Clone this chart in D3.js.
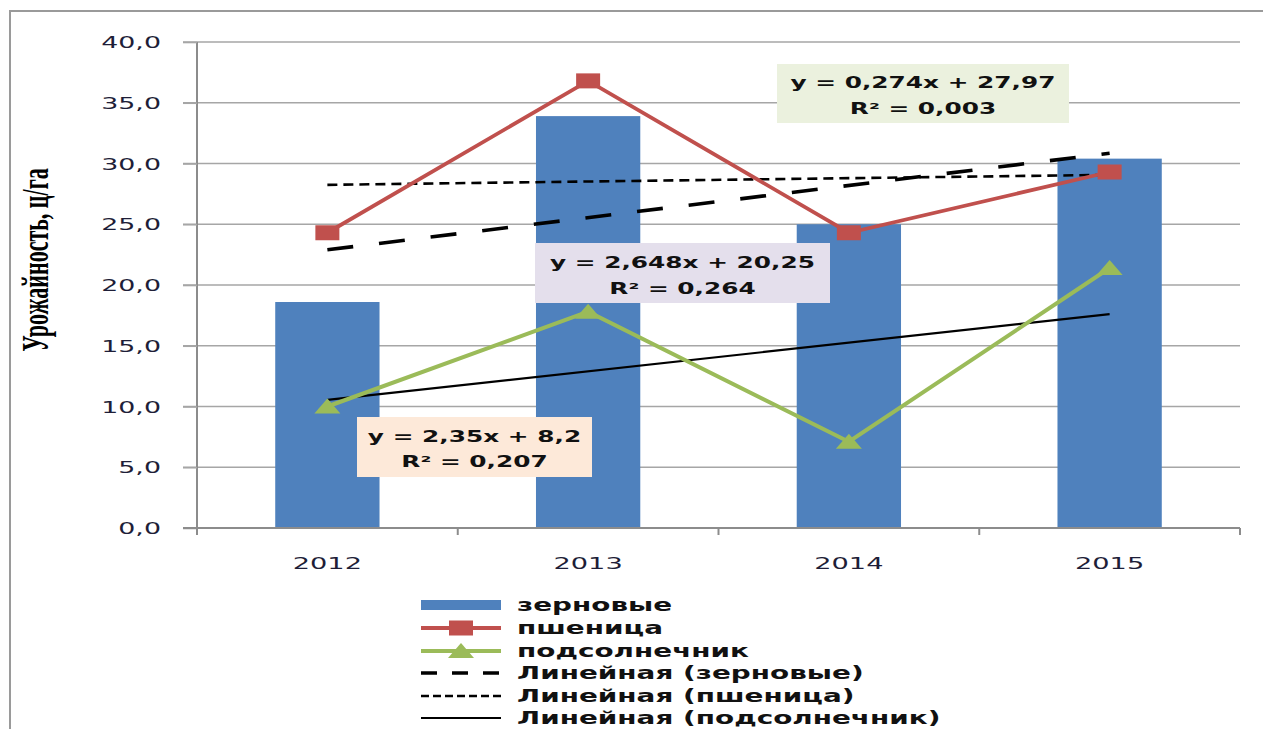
<!DOCTYPE html>
<html><head><meta charset="utf-8">
<script src="https://cdn.jsdelivr.net/npm/d3@7"></script>
<style>html,body{margin:0;padding:0;background:#fff;overflow:hidden}</style>
</head><body><svg id="c" width="1263" height="729"></svg>
<script>
const years = ["2012","2013","2014","2015"];
const grain = [18.6, 33.9, 25.0, 30.4];
const wheat = [24.3, 36.8, 24.3, 29.3];
const sunflower = [10.0, 17.8, 7.1, 21.4];
const yTicks = [0,5,10,15,20,25,30,35,40];
const seriesNames = ["зерновые","пшеница","подсолнечник"];
const trendNames = ["Линейная (зерновые)","Линейная (пшеница)","Линейная (подсолнечник)"];
const trendSlope = [2.648, 0.274, 2.35];
const trendIntercept = [20.25, 27.97, 8.2];
const trendR2 = ["0,264","0,003","0,207"];
const axisTitle = "Урожайность, ц/га";

const SX = 1.55;
const svg = d3.select("#c");
const fmt = v => d3.format(".1f")(v).replace(".", ",");
const fmtN = v => String(v).replace(".", ",");

function stext(g, x, y, str, opts) {
  const t = g.append("text").attr("transform", `translate(${x},${y}) scale(${opts.sx||SX},1)`)
    .attr("text-anchor", opts.anchor||"start")
    .attr("font-family", opts.family||"DejaVu Sans")
    .attr("font-size", opts.size||15)
    .attr("font-weight", opts.weight||"normal")
    .attr("fill", opts.fill||"#222")
    .text(str);
  return t;
}

// outer border
svg.append("rect").attr("x",10).attr("y",11).attr("width",1400).attr("height",900)
  .attr("fill","none").attr("stroke","#9a9a9a").attr("stroke-width",2);

const x = d3.scaleBand().domain(years).range([197,1240]).padding(0);
const y = d3.scaleLinear().domain([0,40]).range([528,42]);
const cx = d => x(d) + x.bandwidth()/2;

// gridlines
const g = svg.append("g");
g.selectAll("line.grid").data(yTicks.filter(v=>v>0)).join("line")
  .attr("x1",183).attr("x2",1240).attr("y1",d=>y(d)).attr("y2",d=>y(d))
  .attr("stroke","#a6a6a6").attr("stroke-width",1.6);

// y axis
const yAxis = d3.axisLeft(y).tickValues(yTicks).tickSize(14).tickFormat(fmt);
const ya = svg.append("g").attr("transform","translate(197,0)").call(yAxis);
ya.select(".domain").attr("stroke","#8c8c8c").attr("stroke-width",2).attr("d","M0,533V42");
ya.selectAll(".tick line").attr("stroke","#a6a6a6").attr("stroke-width",1.6);
ya.selectAll(".tick text").remove();
yTicks.forEach(v => stext(svg, 161, y(v)+6, fmt(v), {anchor:"end", size:16, sx:1.68, fill:"#1e1e38"}));

// bars
const bw = x.bandwidth()*0.4;
svg.append("g").selectAll("rect").data(grain).join("rect")
  .attr("x",(d,i)=>cx(years[i])-bw/2).attr("width",bw)
  .attr("y",d=>y(d)).attr("height",d=>y(0)-y(d)).attr("fill","#4f81bd");

// x axis
const xa = svg.append("g").attr("transform","translate(0,528)")
  .call(d3.axisBottom(x).tickSize(0).tickFormat(""));
xa.select(".domain").attr("stroke","#8c8c8c").attr("stroke-width",2).attr("d","M183,0H1240");
xa.selectAll(".tick").remove();
const bounds = years.map(d=>x(d)).concat([1240]);
xa.selectAll("line.bt").data(bounds).join("line").attr("class","bt")
  .attr("x1",d=>d).attr("x2",d=>d).attr("y1",0).attr("y2",7)
  .attr("stroke","#8c8c8c").attr("stroke-width",2);
years.forEach(yr => stext(svg, cx(yr), 569, yr, {anchor:"middle", size:16, sx:1.7, fill:"#1e1e38"}));

// trend lines
const trendStyles = [
  {dash:"26,26", w:3.6},
  {dash:"10,6", w:2.6},
  {dash:null, w:2.2}
];
trendSlope.forEach((s,i) => {
  const pts = years.map((yr,j)=>[cx(yr), y(s*(j+1)+trendIntercept[i])]);
  const p = svg.append("path").attr("d", d3.line()([pts[0], pts[pts.length-1]]))
    .attr("stroke","#000").attr("stroke-width",trendStyles[i].w).attr("fill","none");
  if (trendStyles[i].dash) p.attr("stroke-dasharray", trendStyles[i].dash);
});

// lines
const line = d3.line().x((d,i)=>cx(years[i])).y(d=>y(d));
svg.append("path").datum(wheat).attr("d",line).attr("fill","none")
  .attr("stroke","#c0504d").attr("stroke-width",3.8);
svg.append("path").datum(sunflower).attr("d",line).attr("fill","none")
  .attr("stroke","#9bbb59").attr("stroke-width",4);
svg.append("g").selectAll("rect").data(wheat).join("rect")
  .attr("x",(d,i)=>cx(years[i])-12).attr("y",d=>y(d)-7.5)
  .attr("width",24).attr("height",15).attr("fill","#c0504d");
const tri = (px,py) => `M${px},${py-8}L${px+13},${py+7}L${px-13},${py+7}Z`;
svg.append("g").selectAll("path").data(sunflower).join("path")
  .attr("d",(d,i)=>tri(cx(years[i]), y(d))).attr("fill","#9bbb59");

// equation boxes
const boxes = [
  {i:1, x:777, y:64, w:292, h:59, fill:"#ebf1de", l1:88, l2:114},
  {i:0, x:535, y:243, w:295, h:60, fill:"#e4dfec", l1:268, l2:294},
  {i:2, x:357, y:417, w:235, h:60, fill:"#fde9d9", l1:442, l2:467}
];
boxes.forEach(b => {
  svg.append("rect").attr("x",b.x).attr("y",b.y).attr("width",b.w).attr("height",b.h).attr("fill",b.fill);
  const mx = b.x + b.w/2;
  stext(svg, mx, b.l1, `y = ${fmtN(trendSlope[b.i])}x + ${fmtN(trendIntercept[b.i])}`, {anchor:"middle", size:16, weight:"bold", fill:"#111"});
  stext(svg, mx, b.l2, `R² = ${trendR2[b.i]}`, {anchor:"middle", size:16, weight:"bold", fill:"#111"});
});

// axis title
svg.append("text").attr("transform","translate(48,260) scale(1.7,1) rotate(-90)")
  .attr("text-anchor","middle").attr("font-family","Liberation Serif").attr("font-weight","bold")
  .attr("font-size",22).attr("fill","#000").text(axisTitle);

// legend
const lg = svg.append("g");
const rows = [605,628,651,673,696,718];
const lx0 = 421, lx1 = 501, tx = 517;
lg.append("rect").attr("x",lx0).attr("y",rows[0]-5).attr("width",lx1-lx0).attr("height",10).attr("fill","#4f81bd");
lg.append("line").attr("x1",lx0).attr("x2",lx1).attr("y1",rows[1]).attr("y2",rows[1]).attr("stroke","#c0504d").attr("stroke-width",3.8);
lg.append("rect").attr("x",(lx0+lx1)/2-12).attr("y",rows[1]-7.5).attr("width",24).attr("height",15).attr("fill","#c0504d");
lg.append("line").attr("x1",lx0).attr("x2",lx1).attr("y1",rows[2]).attr("y2",rows[2]).attr("stroke","#9bbb59").attr("stroke-width",4);
lg.append("path").attr("d",tri((lx0+lx1)/2, rows[2])).attr("fill","#9bbb59");
trendStyles.forEach((s,i) => {
  const l = lg.append("line").attr("x1",lx0).attr("x2",lx1).attr("y1",rows[3+i]).attr("y2",rows[3+i])
    .attr("stroke","#000").attr("stroke-width",s.w);
  if (s.dash) l.attr("stroke-dasharray", i===0 ? "16,15" : "8,4");
});
seriesNames.concat(trendNames).forEach((n,i) =>
  stext(lg, tx, rows[i]+6, n, {size:17, weight:"bold", fill:"#111", sx:1.64}));
</script></body></html>
